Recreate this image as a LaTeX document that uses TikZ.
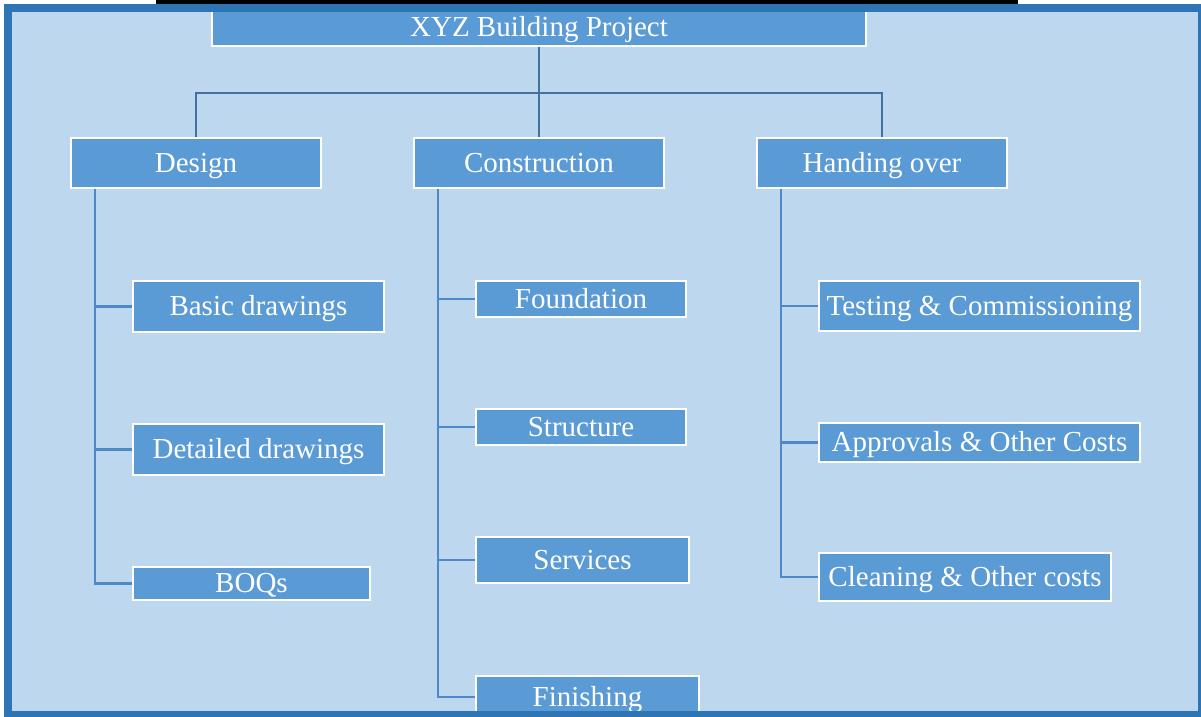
\documentclass[tikz,border=0pt]{standalone}
\usepackage{fontspec}
\setmainfont{Liberation Serif}
\usepackage{xcolor}
\usepackage{tikz}

\definecolor{paneblue}{HTML}{BDD7EE}
\definecolor{boxblue}{HTML}{5B9BD5}
\definecolor{frameblue}{HTML}{2E75B6}
\definecolor{busblue}{HTML}{41719C}
\definecolor{linkblue}{HTML}{4F88C6}

\begin{document}
\begin{tikzpicture}[
  x=1pt, y=-1pt,
  wbsbox/.style={rectangle,draw=white,fill=boxblue,line width=2.5pt,inner sep=0pt,
                 text height=22pt,text depth=4pt,
                 text=white,font=\fontsize{29}{34}\selectfont},
  bus/.style={draw=busblue,line width=2.5pt},
  link/.style={draw=linkblue,line width=2.5pt}
]
\useasboundingbox (0,0) rectangle (1201,716);
\fill[paneblue] (8,8) rectangle (1201,716);
\fill[black] (156,0) rectangle (1018,4);

% Root
\node[wbsbox,minimum width=654pt,minimum height=38pt] (root) at (539,27) {XYZ Building Project};

% phases
\node[wbsbox,minimum width=250pt,minimum height=50pt] (design) at (196,163) {Design};
\node[wbsbox,minimum width=250pt,minimum height=50pt] (construction) at (539,163) {Construction};
\node[wbsbox,minimum width=250pt,minimum height=50pt] (handing) at (882,163) {Handing over};

% design work packages
\node[wbsbox,minimum width=251pt,minimum height=51pt] (basic) at (258.5,306.5) {Basic drawings};
\node[wbsbox,minimum width=251pt,minimum height=51pt] (detailed) at (258.5,449.5) {Detailed drawings};
\node[wbsbox,minimum width=237pt,minimum height=33pt] (boqs) at (251.5,583.5) {BOQs};

% construction work packages
\node[wbsbox,minimum width=210pt,minimum height=36pt] (foundation) at (581,299) {Foundation};
\node[wbsbox,minimum width=210pt,minimum height=36pt] (structure) at (581,427) {Structure};
\node[wbsbox,minimum width=213pt,minimum height=46pt] (services) at (582.5,560) {Services};
\node[wbsbox,minimum width=223pt,minimum height=42pt] (finishing) at (587.5,697) {Finishing};

% handing over work packages
\node[wbsbox,minimum width=321pt,minimum height=50pt] (testing) at (979.5,306) {Testing \& Commissioning};
\node[wbsbox,minimum width=321pt,minimum height=39pt] (approvals) at (979.5,442.5) {Approvals \& Other Costs};
\node[wbsbox,minimum width=292pt,minimum height=48pt] (cleaning) at (965,577) {Cleaning \& Other costs};

% root to phases
\coordinate (bus) at (539,93);
\draw[bus] (root) -- (construction);
\draw[bus] (design.north) |- (bus) -| (handing.north);

% phases to work packages
\coordinate (dspine) at ([xshift=25pt]design.south west);
\coordinate (cspine) at ([xshift=25pt]construction.south west);
\coordinate (hspine) at ([xshift=25pt]handing.south west);
\draw[link] (dspine) |- (boqs.west);
\draw[link] (cspine) |- (finishing.west);
\draw[link] (hspine) |- (cleaning.west);
\foreach \kid in {basic,detailed}
  \draw[link] (dspine |- \kid.west) -- (\kid.west);
\foreach \kid in {foundation,structure,services}
  \draw[link] (cspine |- \kid.west) -- (\kid.west);
\foreach \kid in {testing,approvals}
  \draw[link] (hspine |- \kid.west) -- (\kid.west);

% outer frame
\draw[frameblue,line width=8pt] (8,7.5) rectangle (1202,715);

\end{tikzpicture}
\end{document}
